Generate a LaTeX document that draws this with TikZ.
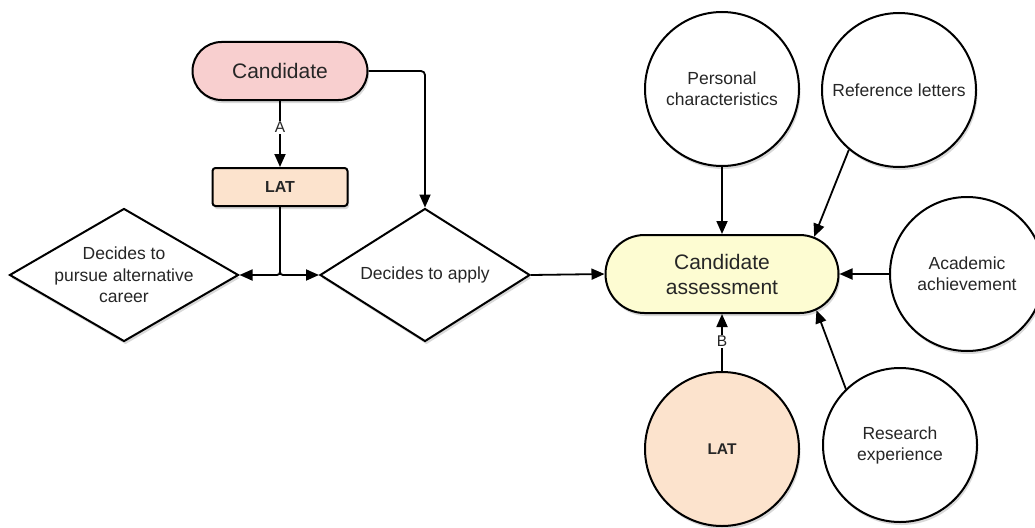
\documentclass[tikz,border=0pt]{standalone}
\usepackage{fontspec}
\setmainfont{Liberation Sans}
\usetikzlibrary{shapes.geometric,shapes.misc,arrows.meta,shadows}
\definecolor{pinkfill}{HTML}{F8CFCF}
\definecolor{peachfill}{HTML}{FCE3CD}
\definecolor{yellowfill}{HTML}{FDFCD2}
\definecolor{txt}{HTML}{262626}
\begin{document}
\begin{tikzpicture}[x=1pt,y=-1pt,
  every node/.style={text=txt},
  base/.style={draw=black, line width=2pt, drop shadow={opacity=0.3, shadow xshift=1.5pt, shadow yshift=-3pt}},
  pill/.style={base, rounded rectangle, inner sep=0pt},
  circ/.style={base, circle, fill=white, minimum size=154pt, inner sep=0pt, align=center, font=\fontsize{17.5}{21}\selectfont},
  dia/.style={base, diamond, fill=white, inner sep=0pt},
  diatext/.style={align=center, font=\fontsize{17.5}{21.5}\selectfont},
  arr/.style={line width=1.8pt, -{Triangle[length=13pt,width=11pt]}},
  lbl/.style={fill=white, inner sep=1.5pt, font=\fontsize{15.5}{18}\selectfont},
]
\useasboundingbox (0,0) rectangle (1035,527);

\node[pill, fill=pinkfill, minimum width=175pt, minimum height=58pt, font=\fontsize{21}{25}\selectfont] (cand) at (280,71) {Candidate};
\node[base, rectangle, rounded corners=3pt, fill=peachfill, minimum width=135pt, minimum height=38pt, font=\bfseries\fontsize{16}{19}\selectfont] (latbox) at (280,187) {LAT};
\node[dia, minimum width=229pt, minimum height=133pt, label={[diatext]center:Decides to\\pursue alternative\\career}] (alt) at (124,275) {};
\node[dia, minimum width=210pt, minimum height=133pt, label={[diatext]center:Decides to apply}] (apply) at (425,275) {};
\node[pill, fill=yellowfill, minimum width=233pt, minimum height=78pt, align=center, font=\fontsize{21}{25}\selectfont] (assess) at (722,274) {Candidate\\assessment};
\node[circ] (pers) at (722,89) {Personal\\characteristics};
\node[circ] (ref) at (899,90) {Reference letters};
\node[circ] (acad) at (967,274) {Academic\\achievement};
\node[circ] (res) at (900,445) {Research\\experience};
\node[circ, fill=peachfill, font=\bfseries\fontsize{15.5}{19}\selectfont] (latc) at (722,449) {LAT};

\draw[arr] (cand.south) -- node[lbl, pos=0.4]{A} (latbox.north);
\draw[arr, rounded corners=4pt] (cand.east) -| (apply.north);
\draw[arr, rounded corners=3pt] (latbox.south) |- (alt.east);
\draw[arr, rounded corners=3pt] (latbox.south) |- (apply.west);
\draw[arr] (apply.east) -- (assess.west);
\draw[arr] (pers.south) -- (assess.north);
\draw[arr] (ref.230) -- (assess.22);
\draw[arr] (acad.west) -- (assess.east);
\draw[arr] (res.134) -- (assess.-21);
\draw[arr] (latc.north) -- node[lbl, pos=0.52]{B} (assess.south);
\end{tikzpicture}
\end{document}
